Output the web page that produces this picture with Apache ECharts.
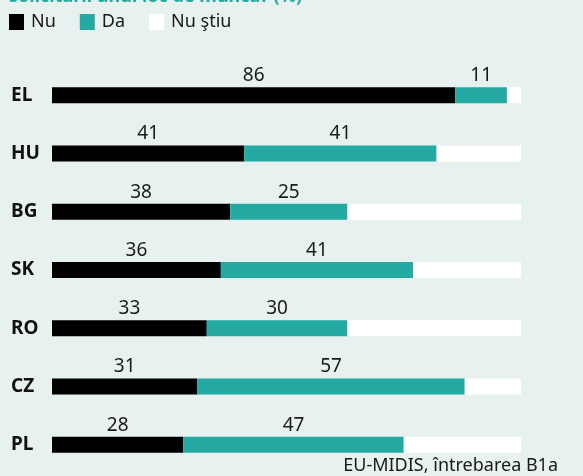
<!DOCTYPE html>
<html>
<head>
<meta charset="utf-8">
<script src="https://cdn.jsdelivr.net/npm/echarts@6/dist/echarts.min.js"></script>
<style>
  html, body { margin: 0; padding: 0; background: #e7f1ef; }
  #chart { width: 583px; height: 476px; }
</style>
</head>
<body>
<div id="chart"></div>
<script>
// date (%)
const countries = ['EL', 'HU', 'BG', 'SK', 'RO', 'CZ', 'PL'];
const nu = [86, 41, 38, 36, 33, 31, 28];
const da = [11, 41, 25, 41, 30, 57, 47];
const nuStiu = [3, 18, 37, 23, 37, 12, 25];

const FONT = '"Noto Sans", sans-serif';
const TEAL = '#25aaa3';

const chart = echarts.init(document.getElementById('chart'));

const valueLabel = {
  show: true,
  position: 'top',
  distance: 2,
  color: '#1a1a1a',
  fontSize: 19,
  fontFamily: FONT
};

chart.setOption({
  backgroundColor: '#e7f1ef',
  animation: false,
  title: {
    text: 'solicitării unui loc de muncă? (%)',
    left: 9,
    top: -12,
    padding: 0,
    textStyle: { color: TEAL, fontSize: 18, fontWeight: 'bold', fontFamily: FONT }
  },
  legend: {
    left: 9,
    top: 13,
    padding: 0,
    itemWidth: 15,
    itemHeight: 16,
    itemGap: 24,
    icon: 'rect',
    textStyle: { color: '#1a1a1a', fontSize: 18, fontFamily: FONT, padding: [0, 0, 0, 2] },
    data: ['Nu', 'Da', 'Nu ştiu']
  },
  grid: { left: 52, right: 62, top: 66, bottom: 2 },
  xAxis: {
    type: 'value',
    min: 0,
    max: 100,
    show: false
  },
  yAxis: {
    type: 'category',
    data: countries,
    inverse: true,
    axisLine: { show: false },
    axisTick: { show: false },
    axisLabel: {
      align: 'left',
      margin: 41,
      color: '#111',
      fontSize: 19,
      fontWeight: 'bold',
      fontFamily: FONT
    }
  },
  series: [
    {
      name: 'Nu',
      type: 'bar',
      stack: 'all',
      barWidth: 16,
      data: nu,
      itemStyle: { color: '#000' },
      label: valueLabel
    },
    {
      name: 'Da',
      type: 'bar',
      stack: 'all',
      barWidth: 16,
      data: da,
      itemStyle: { color: TEAL },
      label: valueLabel
    },
    {
      name: 'Nu ştiu',
      type: 'bar',
      stack: 'all',
      barWidth: 16,
      data: nuStiu,
      itemStyle: { color: '#ffffff' }
    }
  ],
  graphic: [
    {
      type: 'text',
      right: 25,
      top: 457,
      style: {
        text: 'EU-MIDIS, întrebarea B1a',
        fill: '#1a1a1a',
        font: '18px "Noto Sans", sans-serif'
      }
    }
  ]
});
</script>
</body>
</html>
